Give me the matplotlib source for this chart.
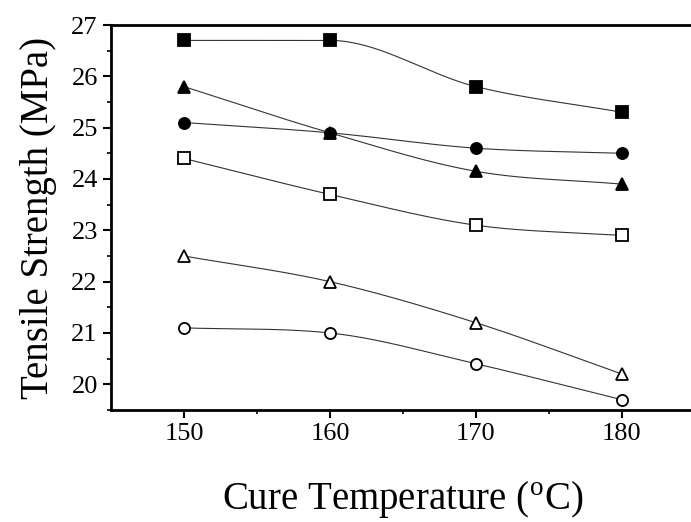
import numpy as np
import matplotlib.pyplot as plt

plt.rcParams['font.family'] = ['Liberation Serif', 'DejaVu Serif']
plt.rcParams['mathtext.fontset'] = 'stix'

temps = [150, 160, 170, 180]
sq_filled = [26.7, 26.7, 25.8, 25.3]
circ_filled = [25.1, 24.9, 24.6, 24.5]
tri_filled = [25.8, 24.9, 24.15, 23.9]
sq_open = [24.4, 23.7, 23.1, 22.9]
tri_open = [22.5, 22.0, 21.2, 20.2]
circ_open = [21.1, 21.0, 20.4, 19.7]


def smooth(x, y, xs):
    # Catmull-Rom slopes, limited so the curve does not overshoot
    x = np.asarray(x, float)
    y = np.asarray(y, float)
    h = np.diff(x)
    d = np.diff(y) / h
    m = np.empty_like(y)
    m[0] = d[0]
    m[-1] = d[-1]
    for k in range(1, len(x) - 1):
        if d[k - 1] * d[k] <= 0:
            m[k] = 0.0
        else:
            s = (y[k + 1] - y[k - 1]) / (x[k + 1] - x[k - 1])
            lim = 3 * min(abs(d[k - 1]), abs(d[k]))
            m[k] = np.sign(s) * min(abs(s), lim)
    out = np.empty_like(xs)
    for i, xv in enumerate(xs):
        k = min(np.searchsorted(x, xv, side='right') - 1, len(x) - 2)
        t = (xv - x[k]) / h[k]
        h00 = 2 * t**3 - 3 * t**2 + 1
        h10 = t**3 - 2 * t**2 + t
        h01 = -2 * t**3 + 3 * t**2
        h11 = t**3 - t**2
        out[i] = h00 * y[k] + h10 * h[k] * m[k] + h01 * y[k + 1] + h11 * h[k] * m[k + 1]
    return out


fig = plt.figure(figsize=(6.91, 5.22), dpi=100)
ax = fig.add_axes([0.1606, 0.2146, 0.845, 0.7375])

xs = np.linspace(150, 180, 200)
series = [
    (sq_filled, 's', 'black'),
    (circ_filled, 'o', 'black'),
    (tri_filled, '^', 'black'),
    (sq_open, 's', 'white'),
    (tri_open, '^', 'white'),
    (circ_open, 'o', 'white'),
]
for vals, mk, face in series:
    ax.plot(xs, smooth(temps, vals, xs), color='#333333', lw=0.8, zorder=2)
    ax.plot(temps, vals, ls='none', marker=mk, ms=8, mfc=face, mec='black', mew=1.3, zorder=3)

ax.set_xlim(145, 185)
ax.set_ylim(19.5, 27)
ax.set_xticks(temps)
ax.set_xticks([155, 165, 175], minor=True)
ax.set_yticks(range(20, 28))
ax.set_yticks(np.arange(19.5, 27.0, 1.0), minor=True)
ax.tick_params(which='major', direction='out', length=6, width=1.5, labelsize=19)
ax.tick_params(which='minor', direction='out', length=3, width=1.2)
for s in ax.spines.values():
    s.set_linewidth(2)
ax.spines['right'].set_visible(False)

ax.set_ylabel('Tensile Strength (MPa)', fontsize=28, labelpad=10)
ax.set_xlabel(r'Cure Temperature ($^{\mathregular{o}}$C)', fontsize=28, labelpad=24)

fig.savefig('out.png', dpi=100)
